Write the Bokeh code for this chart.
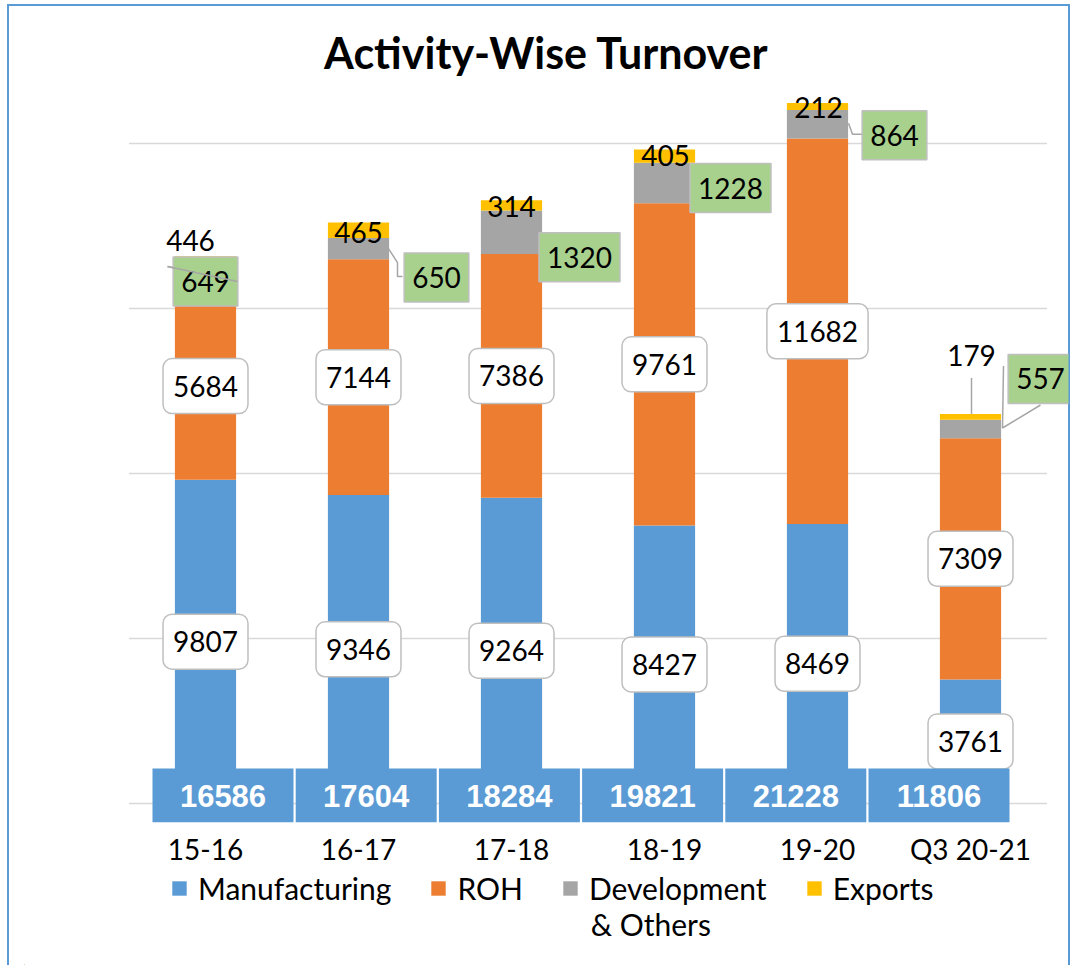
from bokeh.plotting import figure
from bokeh.layouts import column
from bokeh.models import ColumnDataSource, Range1d, Legend, LegendItem, FixedTicker, Label
from bokeh.core.properties import value
from bokeh.embed import file_html
from bokeh.resources import INLINE

# ---------------- data ----------------
categories = ["15-16", "16-17", "17-18", "18-19", "19-20", "Q3 20-21"]
manufacturing = [9807, 9346, 9264, 8427, 8469, 3761]
roh = [5684, 7144, 7386, 9761, 11682, 7309]
development = [649, 650, 1320, 1228, 864, 557]
exports = [446, 465, 314, 405, 212, 179]
totals = [16586, 17604, 18284, 19821, 21228, 11806]
series_labels = ["Manufacturing", "ROH", "Development", "Exports"]
series_label_cont = "&  Others"
grid_ticks = [0, 5000, 10000, 15000, 20000]

# ---------------- style / layout ----------------
colors = ["#5B9BD5", "#ED7D31", "#A5A5A5", "#FFC000"]
FONT = "Lato"
W = 1073
H_MAIN, H_LEG = 868, 97
ML, MR, MT, MB = 24, 5, 90, 46
STEP = 153.0                      # px per category
X0 = -(205 - ML) / STEP           # first category centre sits at 205 px
X1 = X0 + (W - ML - MR) / STEP
Y0, Y1 = -576, 21606
FRAME_H = H_MAIN - MT - MB
PX_Y = FRAME_H / (Y1 - Y0)
xpos = list(range(len(categories)))

# label offsets in screen pixels (dx right, dy down)
dev_dx = [0, 78, 68, 66, 77, 70]
dev_dy = [0, 29, 25, 5, 11, -50]
exp_dx = [-15, 0, 0, 1, 1, 1]
exp_dy = [-16, 10, 6, 6, 4, -58]
dev_leaders = [
    [(-38, -15), (32, 0)],
    [(30, 0), (39, 14), (39, 28), (44, 28)],
    [(21, 10), (29, 1)],
    [(19, -10), (31, 0)],
    [(31, -1), (35, 10), (45, 10)],
    [(33, -63), (32, -1), (70, -24)],
]
exp_leaders = [None, None, None, None, None, [(1, -36), (1, 0)]]

# ---------------- main figure ----------------
p = figure(width=W, height=H_MAIN,
           x_range=Range1d(X0, X1), y_range=Range1d(Y0, Y1),
           output_backend="svg", toolbar_location=None,
           y_axis_location=None,
           min_border_left=ML, min_border_right=MR,
           min_border_top=MT, min_border_bottom=MB)
p.outline_line_color = None
p.background_fill_alpha = 0
p.border_fill_alpha = 0

p.title.text = "Activity-Wise Turnover"
p.title.text_font = FONT
p.title.text_font_size = "43px"
p.title.text_font_style = "bold"
p.title.text_color = "black"
p.title.align = "center"
p.title.standoff = 26

p.xgrid.visible = False
p.ygrid.visible = False
p.segment(x0=-0.5, x1=len(categories) - 0.5, y0=grid_ticks, y1=grid_ticks,
          line_color="#D9D9D9", line_width=1.5)

p.xaxis.ticker = FixedTicker(ticks=xpos)
p.xaxis.major_label_overrides = {i: c for i, c in zip(xpos, categories)}
p.xaxis.axis_line_color = None
p.xaxis.major_tick_line_color = None
p.xaxis.minor_tick_line_color = None
p.xaxis.major_label_text_font = FONT
p.xaxis.major_label_text_font_size = "28px"
p.xaxis.major_label_text_color = "black"
p.xaxis.major_label_standoff = 3

keys = ["m", "r", "d", "e"]
src = ColumnDataSource(dict(x=xpos, m=manufacturing, r=roh, d=development, e=exports))
rs = p.vbar_stack(keys, x="x", width=0.4, color=colors, line_color=None, source=src)

m_mid = [m / 2 for m in manufacturing]
r_mid = [m + r / 2 for m, r in zip(manufacturing, roh)]
d_mid = [m + r + d / 2 for m, r, d in zip(manufacturing, roh, development)]
tops = [m + r + d + e for m, r, d, e in zip(manufacturing, roh, development, exports)]

# leader lines
xs, ys = [], []
for i, pts in enumerate(dev_leaders):
    xs.append([i + dx / STEP for dx, dy in pts])
    ys.append([d_mid[i] - dy / PX_Y for dx, dy in pts])
for i, pts in enumerate(exp_leaders):
    if pts:
        xs.append([i + dx / STEP for dx, dy in pts])
        ys.append([tops[i] - dy / PX_Y for dx, dy in pts])
p.multi_line(xs, ys, line_color="#A6A6A6", line_width=1.5)

# white rounded labels for manufacturing & ROH
lab_src = ColumnDataSource(dict(
    x=xpos + xpos, y=m_mid + r_mid,
    t=[str(v) for v in manufacturing] + [str(v) for v in roh]))
p.text(x="x", y="y", text="t", source=lab_src, text_font=value(FONT), text_font_size="28px",
       text_color="black", text_align="center", text_baseline="middle",
       background_fill_color="white", border_line_color="#BFBFBF", border_line_width=1.5,
       padding=dict(left=10, right=10, top=17, bottom=17), border_radius=9)

# green labels for development
dev_src = ColumnDataSource(dict(x=xpos, y=d_mid, t=[str(v) for v in development],
                                dx=dev_dx, dy=dev_dy))
p.text(x="x", y="y", text="t", source=dev_src, x_offset="dx", y_offset="dy",
       text_font=value(FONT), text_font_size="28px", text_color="black",
       text_align="center", text_baseline="middle",
       background_fill_color="#A9D18E", border_line_color="#BFBFBF", border_line_width=1.5,
       padding=dict(left=8, right=8, top=14, bottom=14))
p.multi_line([xs[0]], [ys[0]], line_color="#A6A6A6", line_width=1.5)

# export labels
exp_src = ColumnDataSource(dict(x=xpos, y=tops, t=[str(v) for v in exports],
                                dx=exp_dx, dy=exp_dy))
p.text(x="x", y="y", text="t", source=exp_src, x_offset="dx", y_offset="dy",
       text_font=value(FONT), text_font_size="28px", text_color="black",
       text_align="center", text_baseline="middle")

# total boxes (data-table like strip)
box_c0 = (152 + 70.5 - 205) / STEP
box_step = 143.2 / STEP
box_w = 141 / STEP
box_top = 1060
tot_src = ColumnDataSource(dict(
    x=[box_c0 + box_step * i for i in xpos], t=[str(v) for v in totals]))
p.rect(x="x", y=(box_top + Y0) / 2, width=box_w, height=box_top - Y0,
       source=tot_src, fill_color="#5B9BD5", line_color=None)
p.text(x="x", y=(box_top + Y0) / 2, text="t", source=tot_src,
       text_font=value("Liberation Sans"), text_font_size="31px", text_font_style="bold",
       text_color="white", text_align="center", text_baseline="middle")

# ---------------- legend strip ----------------
pl = figure(width=W, height=H_LEG, x_range=Range1d(0, W), y_range=Range1d(0, H_LEG),
            output_backend="svg", toolbar_location=None,
            x_axis_location=None, y_axis_location=None, min_border=0)
pl.outline_line_color = None
pl.background_fill_alpha = 0
pl.border_fill_alpha = 0
pl.xgrid.visible = False
pl.ygrid.visible = False
# swatch renderers (their single bar lies outside the visible range)
leg_rs = [pl.vbar(x=[-500], top=[1], width=1, color=c, line_color=None) for c in colors]
legend = Legend(items=[LegendItem(label=lab, renderers=[r]) for lab, r in zip(series_labels, leg_rs)],
                orientation="horizontal", location=(146, 59),
                label_text_font=FONT, label_text_font_size="30px", label_text_color="black",
                glyph_width=18, glyph_height=18, label_standoff=10, spacing=38,
                border_line_color=None, padding=0, margin=0,
                background_fill_alpha=0)
pl.add_layout(legend)
pl.add_layout(Label(x=582, y=42, text=series_label_cont, text_font=FONT,
                    text_font_size="30px", text_color="black", text_baseline="middle"))

page = column(p, pl, spacing=0)
page.styles = {"box-shadow": "inset 7px 4px 0 0 #ffffff, inset -3px 0 0 0 #ffffff, "
                             "inset 9px 6px 0 0 #5B9BD5, inset -5px 0 0 0 #5B9BD5"}

open("out.html", "w").write(file_html(page, INLINE))
